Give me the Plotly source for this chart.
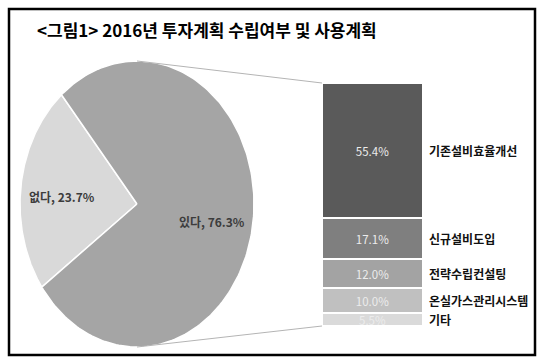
import numpy as np
import plotly.graph_objects as go

title = "<그림1> 2016년 투자계획 수립여부 및 사용계획"

pie_labels = ["없다", "있다"]
pie_values = [23.7, 76.3]
pie_colors = ["#d9d9d9", "#a5a5a5"]

bar_labels = ["기존설비효율개선", "신규설비도입", "전략수립컨설팅", "온실가스관리시스템", "기타"]
bar_values = [55.4, 17.1, 12.0, 10.0, 5.5]
bar_colors = ["#5a5a5a", "#7f7f7f", "#a3a3a3", "#c0c0c0", "#dadada"]

W, H = 540, 361
FONT = "Noto Sans CJK KR"

# layout geometry (pixels)
cx, cy, rx, ry = 137, 204, 117, 143
start_angle = 130.2
bar_x0, bar_x1, bar_top, bar_bot = 322, 423, 83, 326

fig = go.Figure()

# pie slices (elliptical) from values
tot = sum(pie_values)
ang = start_angle
for lab, val, col in zip(pie_labels, pie_values, pie_colors):
    span = val / tot * 360
    th = np.radians(np.linspace(ang, ang + span, 200))
    xs = np.concatenate([[cx], cx + rx * np.cos(th), [cx]])
    ys = np.concatenate([[cy], cy - ry * np.sin(th), [cy]])
    fig.add_trace(go.Scatter(x=xs, y=ys, fill="toself", fillcolor=col, mode="lines",
                             line=dict(color="white", width=1.5), hoverinfo="skip",
                             showlegend=False, xaxis="x", yaxis="y"))
    mid = np.radians(ang + span / 2)
    fig.add_annotation(x=cx + 0.65 * rx * np.cos(mid), y=cy - 0.72 * ry * np.sin(mid) + 5,
                       xref="x", yref="y", text=f"<b>{lab}, {val}%</b>", showarrow=False,
                       font=dict(family=FONT, size=12, color="#3c3c3c"))
    ang += span

# stacked bar from values
cum = 0.0
for lab, val, col in zip(bar_labels, bar_values, bar_colors):
    fig.add_trace(go.Bar(x=[0], y=[val], base=[cum], width=1, marker=dict(color=col, line=dict(color="white", width=2)),
                         text=[f"{val:.1f}%"], textposition="inside", insidetextanchor="middle",
                         textangle=0, textfont=dict(family=FONT, size=11.5, color="#ececec"),
                         hoverinfo="skip", showlegend=False, xaxis="x2", yaxis="y2"))
    fig.add_annotation(x=(bar_x1 + 4) / W, xref="paper", xanchor="left", y=cum + val / 2, yref="y2",
                       text=f"<b>{lab}</b>", showarrow=False,
                       font=dict(family=FONT, size=12, color="#111111"))
    cum += val

esc = title.replace("<", "&lt;").replace(">", "&gt;")
fig.add_annotation(x=35, y=29, xref="x", yref="y", xanchor="left", yanchor="middle",
                   text=f"<b>{esc}</b>", showarrow=False,
                   font=dict(family=FONT, size=17, color="#000000"))

shapes = [
    dict(type="line", xref="x", yref="y", x0=cx, y0=cy - ry, x1=bar_x0, y1=bar_top,
         line=dict(color="#b4b4b4", width=1)),
    dict(type="line", xref="x", yref="y", x0=cx, y0=cy + ry, x1=bar_x0, y1=bar_bot,
         line=dict(color="#b4b4b4", width=1)),
    dict(type="rect", xref="x", yref="y", x0=9, y0=9, x1=535, y1=355,
         line=dict(color="#000000", width=2.5)),
]

fig.update_layout(
    width=W, height=H, margin=dict(l=0, r=0, t=0, b=0),
    paper_bgcolor="white", plot_bgcolor="rgba(0,0,0,0)",
    shapes=shapes, barmode="overlay", bargap=0,
    uniformtext=dict(minsize=11, mode="show"),
    xaxis=dict(range=[0, W], domain=[0, 1], visible=False, fixedrange=True),
    yaxis=dict(range=[H, 0], domain=[0, 1], visible=False, fixedrange=True),
    xaxis2=dict(range=[-0.5, 0.5], domain=[bar_x0 / W, bar_x1 / W], visible=False, anchor="y2"),
    yaxis2=dict(range=[100, 0], domain=[1 - bar_bot / H, 1 - bar_top / H], visible=False, anchor="x2"),
)

fig.write_html("out.html")
